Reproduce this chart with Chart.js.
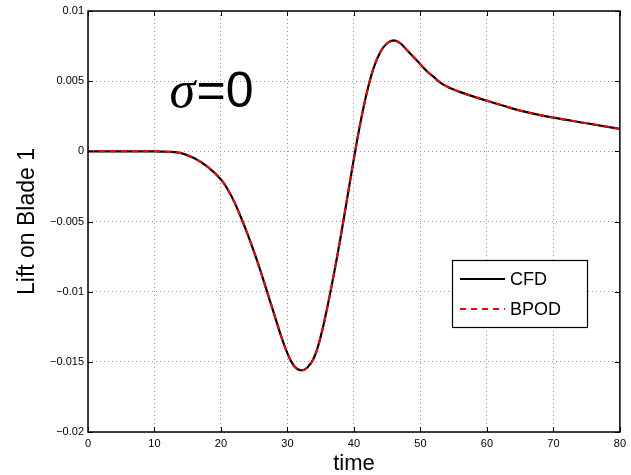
<!DOCTYPE html>
<html>
<head>
<meta charset="utf-8">
<script src="https://cdn.jsdelivr.net/npm/chart.js@4.4.0/dist/chart.umd.min.js"></script>
<style>
  html, body { margin: 0; padding: 0; background: #fff; }
  #wrap { width: 631px; height: 475px; }
</style>
</head>
<body>
<div id="wrap"><canvas id="c" width="631" height="475"></canvas></div>
<script>
// ---- data ----
const timeValues = [0, 5, 10, 12, 14, 16, 18, 20, 21, 22, 23, 24, 25, 26, 27, 28, 29, 30, 31, 32, 33, 34, 35, 36, 37, 38, 39, 40, 41, 42, 43, 44, 45, 46, 47, 48, 49, 50, 51, 52, 53, 54, 55, 56, 58, 60, 62.5, 65, 67.5, 70, 75, 80];
const cfdLift   = [0, 0, 0, -0.00003, -0.00013, -0.0005, -0.0011, -0.002, -0.0027, -0.0036, -0.0047, -0.0059, -0.0072, -0.0086, -0.0101, -0.0116, -0.0131, -0.0144, -0.0153, -0.0156, -0.0154, -0.0147, -0.0132, -0.0111, -0.0087, -0.0061, -0.0033, -0.0005, 0.0021, 0.0043, 0.0060, 0.0071, 0.0077, 0.0079, 0.0077, 0.0072, 0.0067, 0.0062, 0.0057, 0.0053, 0.0049, 0.00462, 0.0044, 0.00422, 0.0039, 0.0036, 0.00325, 0.0029, 0.00263, 0.0024, 0.0020, 0.0016];
const bpodLift  = [0, 0, 0, -0.00003, -0.00013, -0.0005, -0.0011, -0.002, -0.0027, -0.0036, -0.0047, -0.0059, -0.0072, -0.0086, -0.0101, -0.0116, -0.0131, -0.0144, -0.0153, -0.0156, -0.0154, -0.0147, -0.0132, -0.0111, -0.0087, -0.0061, -0.0033, -0.0005, 0.0021, 0.0043, 0.0060, 0.0071, 0.0077, 0.0079, 0.0077, 0.0072, 0.0067, 0.0062, 0.0057, 0.0053, 0.0049, 0.00462, 0.0044, 0.00422, 0.0039, 0.0036, 0.00325, 0.0029, 0.00263, 0.0024, 0.0020, 0.0016];
const seriesNames = ['CFD', 'BPOD'];
const xTickValues = [0, 10, 20, 30, 40, 50, 60, 70, 80];
const yTickValues = [0.01, 0.005, 0, -0.005, -0.01, -0.015, -0.02];
const yTickLabels = ['0.01', '0.005', '0', '\u22120.005', '\u22120.01', '\u22120.015', '\u22120.02'];
const xTitle = 'time';
const yTitle = 'Lift on Blade 1';
const annotationText = { sym: '\u03C3', rest: '=0' };

const FONT = '"Liberation Sans", Arial, Helvetica, sans-serif';

function toPoints(xs, ys) { return xs.map((x, i) => ({ x: x, y: ys[i] })); }

// frame, inward tick marks, legend and sigma label
const decorPlugin = {
  id: 'decor',
  afterDatasetsDraw(chart) {
    const ctx = chart.ctx;
    const a = chart.chartArea;
    const xs = chart.scales.x, ys = chart.scales.y;
    ctx.save();
    // frame
    ctx.strokeStyle = '#000';
    ctx.lineWidth = 1.5;
    ctx.strokeRect(a.left, a.top, a.right - a.left, a.bottom - a.top);
    // inward ticks
    ctx.lineWidth = 1;
    const tl = 5;
    ctx.beginPath();
    xTickValues.forEach(v => {
      const px = Math.round(xs.getPixelForValue(v)) + 0.5;
      ctx.moveTo(px, a.bottom); ctx.lineTo(px, a.bottom - tl);
      ctx.moveTo(px, a.top); ctx.lineTo(px, a.top + tl);
    });
    yTickValues.forEach(v => {
      const py = Math.round(ys.getPixelForValue(v)) + 0.5;
      ctx.moveTo(a.left, py); ctx.lineTo(a.left + tl, py);
      ctx.moveTo(a.right, py); ctx.lineTo(a.right - tl, py);
    });
    ctx.stroke();

    // sigma annotation
    const ax = xs.getPixelForValue(12.25);
    const ay = ys.getPixelForValue(0.00318);
    ctx.fillStyle = '#000';
    ctx.textBaseline = 'alphabetic';
    ctx.textAlign = 'left';
    ctx.font = 'italic 52px "Liberation Serif", "Times New Roman", serif';
    ctx.fillText(annotationText.sym, ax, ay);
    ctx.font = '50px ' + FONT;
    ctx.fillText(annotationText.rest, ax + 27, ay);

    // legend
    const lx = 452, ly = 260, lw = 135, lh = 67;
    ctx.fillStyle = '#fff';
    ctx.fillRect(lx, ly, lw, lh);
    ctx.strokeStyle = '#000';
    ctx.lineWidth = 1.2;
    ctx.strokeRect(lx + 0.5, ly + 0.5, lw, lh);
    const rows = [279, 309];
    chart.data.datasets.forEach((ds, i) => {
      const y = rows[i];
      ctx.strokeStyle = ds.borderColor;
      ctx.lineWidth = ds.borderWidth;
      ctx.setLineDash(ds.borderDash || []);
      ctx.beginPath();
      ctx.moveTo(lx + 8, y); ctx.lineTo(lx + 53, y);
      ctx.stroke();
      ctx.setLineDash([]);
      ctx.fillStyle = '#000';
      ctx.font = '18px ' + FONT;
      ctx.textBaseline = 'middle';
      ctx.fillText(ds.label, lx + 58, y + 1);
    });
    ctx.restore();
  }
};

new Chart(document.getElementById('c'), {
  type: 'line',
  data: {
    datasets: [
      { label: seriesNames[0], order: 1, data: toPoints(timeValues, cfdLift), borderColor: '#000000', borderWidth: 2.2, pointRadius: 0, tension: 0.4, fill: false },
      { label: seriesNames[1], order: 0, data: toPoints(timeValues, bpodLift), borderColor: '#ff0000', borderWidth: 2, borderDash: [6, 5], pointRadius: 0, tension: 0.4, fill: false }
    ]
  },
  options: {
    responsive: false,
    animation: false,
    events: [],
    layout: { padding: { top: 11, right: 8, left: 0, bottom: 0 } },
    plugins: { legend: { display: false }, tooltip: { enabled: false } },
    scales: {
      x: {
        type: 'linear', min: 0, max: 80,
        afterFit(s) { s.height = 43; },
        afterBuildTicks(s) { s.ticks = xTickValues.map(v => ({ value: v })); },
        ticks: { color: '#000', font: { family: FONT, size: 11 }, padding: 5, maxRotation: 0, callback: v => String(v) },
        grid: { color: '#9a9a9a', lineWidth: 1, drawTicks: false },
        border: { display: false, dash: [1, 3] },
        title: { display: true, text: xTitle, color: '#000', font: { family: FONT, size: 22, lineHeight: 1.0 }, padding: { top: 0, bottom: 0 } }
      },
      y: {
        type: 'linear', min: -0.02, max: 0.01,
        afterFit(s) { s.width = 88; },
        afterBuildTicks(s) { s.ticks = yTickValues.map(v => ({ value: v })); },
        ticks: { color: '#000', font: { family: FONT, size: 11 }, padding: 4, callback: (v) => { const i = yTickValues.findIndex(t => Math.abs(t - v) < 1e-9); return i >= 0 ? yTickLabels[i] : ''; } },
        grid: { color: '#9a9a9a', lineWidth: 1, drawTicks: false },
        border: { display: false, dash: [1, 3] },
        title: { display: true, text: yTitle, color: '#000', font: { family: FONT, size: 23, lineHeight: 1.0 }, padding: { top: 16, bottom: 0 } }
      }
    }
  },
  plugins: [decorPlugin]
});
</script>
</body>
</html>
